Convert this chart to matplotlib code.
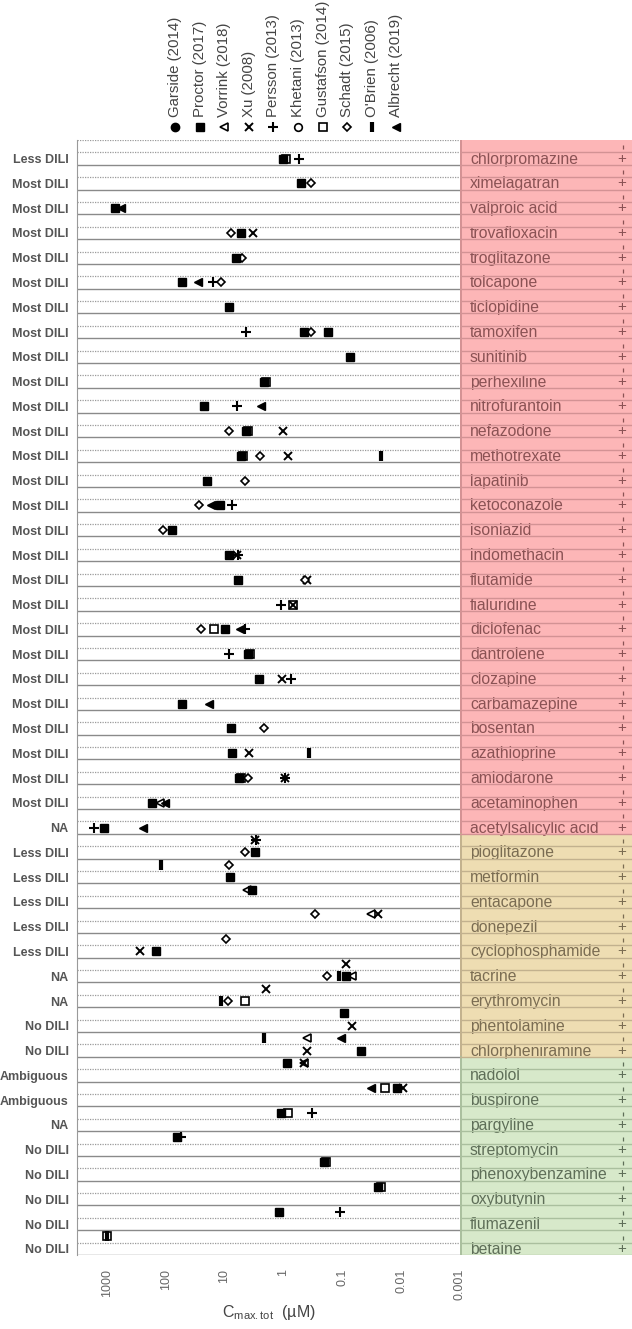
import matplotlib
matplotlib.use("Agg")
import matplotlib.pyplot as plt

plt.rcParams['font.family'] = ['Liberation Sans', 'DejaVu Sans']
plt.rcParams['mathtext.fontset'] = 'custom'
plt.rcParams['mathtext.rm'] = 'Liberation Sans'
plt.rcParams['mathtext.it'] = 'Liberation Sans'

# ---- data -------------------------------------------------------------
drugs = ['chlorpromazine', 'ximelagatran', 'valproic acid', 'trovafloxacin',
         'troglitazone', 'tolcapone', 'ticlopidine', 'tamoxifen', 'sunitinib',
         'perhexiline', 'nitrofurantoin', 'nefazodone', 'methotrexate',
         'lapatinib', 'ketoconazole', 'isoniazid', 'indomethacin', 'flutamide',
         'fialuridine', 'diclofenac', 'dantrolene', 'clozapine',
         'carbamazepine', 'bosentan', 'azathioprine', 'amiodarone',
         'acetaminophen', 'acetylsalicylic acid', 'pioglitazone', 'metformin',
         'entacapone', 'donepezil', 'cyclophosphamide', 'tacrine',
         'erythromycin', 'phentolamine', 'chlorpheniramine', 'nadolol',
         'buspirone', 'pargyline', 'streptomycin', 'phenoxybenzamine',
         'oxybutynin', 'flumazenil', 'betaine']

dili = ['Less DILI'] + ['Most DILI'] * 26 + ['NA'] + ['Less DILI'] * 5 + \
       ['NA', 'NA', 'No DILI', 'No DILI', 'Ambiguous', 'Ambiguous', 'NA'] + \
       ['No DILI'] * 5

strip_group = ['high'] * 28 + ['mid'] * 9 + ['low'] * 8

studies = ['Garside (2014)', 'Proctor (2017)', 'Vorrink (2018)', 'Xu (2008)',
           'Persson (2013)', 'Khetani (2013)', 'Gustafson (2014)',
           'Schadt (2015)', "O'Brien (2006)", 'Albrecht (2019)']

# (drug, Cmax uM, lane) ; lane 1 = upper half of the row
garside = []
proctor = [('chlorpromazine', 1.0, 0), ('ximelagatran', 0.5, 0),
           ('valproic acid', 720, 0), ('trovafloxacin', 5.3, 0),
           ('troglitazone', 6.4, 0), ('tolcapone', 52, 0),
           ('ticlopidine', 8.4, 0), ('tamoxifen', 0.44, 0),
           ('tamoxifen', 0.175, 0), ('sunitinib', 0.075, 0),
           ('perhexiline', 2.17, 0), ('nitrofurantoin', 22, 0),
           ('nefazodone', 4.35, 0), ('methotrexate', 5.2, 0),
           ('lapatinib', 19.5, 0), ('ketoconazole', 11.9, 0),
           ('isoniazid', 77, 0), ('indomethacin', 8.4, 0),
           ('flutamide', 5.9, 0), ('diclofenac', 9.8, 0),
           ('dantrolene', 4.0, 0), ('clozapine', 2.56, 0),
           ('carbamazepine', 52.5, 0), ('bosentan', 7.7, 0),
           ('azathioprine', 7.6, 0), ('amiodarone', 5.7, 0),
           ('acetaminophen', 172, 0), ('acetylsalicylic acid', 1130, 0),
           ('pioglitazone', 3.07, 0), ('metformin', 8.1, 0),
           ('entacapone', 3.45, 1), ('cyclophosphamide', 147, 0),
           ('tacrine', 0.087, 0), ('phentolamine', 0.094, 1),
           ('chlorpheniramine', 0.048, 0), ('nadolol', 0.87, 1),
           ('buspirone', 0.0117, 1), ('pargyline', 1.09, 1),
           ('streptomycin', 65, 1), ('phenoxybenzamine', 0.207, 1),
           ('oxybutynin', 0.0247, 1), ('flumazenil', 1.2, 1)]
vorrink = [('acetaminophen', 125, 0), ('entacapone', 4.2, 1),
           ('donepezil', 0.033, 1), ('tacrine', 0.067, 0),
           ('chlorpheniramine', 0.39, 1), ('nadolol', 0.455, 1)]
xu = [('trovafloxacin', 3.3, 0), ('nefazodone', 1.0, 0),
      ('methotrexate', 0.82, 0), ('indomethacin', 6.2, 0),
      ('flutamide', 0.39, 0), ('fialuridine', 0.68, 0),
      ('clozapine', 1.04, 0), ('azathioprine', 3.77, 0),
      ('amiodarone', 0.94, 0), ('pioglitazone', 3.0, 1),
      ('donepezil', 0.025, 1), ('cyclophosphamide', 273, 0),
      ('tacrine', 0.088, 1), ('erythromycin', 1.95, 1),
      ('phentolamine', 0.069, 0), ('chlorpheniramine', 0.39, 0),
      ('nadolol', 0.455, 1), ('buspirone', 0.0093, 1)]
persson = [('chlorpromazine', 0.54, 0), ('tolcapone', 15.6, 0),
           ('tamoxifen', 4.35, 0), ('nitrofurantoin', 6.2, 0),
           ('ketoconazole', 7.5, 0), ('indomethacin', 6.0, 0),
           ('fialuridine', 1.08, 0), ('diclofenac', 4.5, 0),
           ('dantrolene', 8.4, 0), ('clozapine', 0.74, 0),
           ('amiodarone', 0.94, 0), ('acetylsalicylic acid', 1660, 0),
           ('pioglitazone', 2.9, 1), ('pargyline', 0.33, 1),
           ('streptomycin', 54, 1), ('flumazenil', 0.11, 1)]
khetani = []
gustafson = [('chlorpromazine', 0.9, 0), ('perhexiline', 2.0, 0),
             ('nefazodone', 4.0, 0), ('methotrexate', 4.8, 0),
             ('fialuridine', 0.68, 0), ('diclofenac', 15, 0),
             ('dantrolene', 3.7, 0), ('amiodarone', 5.2, 0),
             ('erythromycin', 4.5, 0), ('buspirone', 0.0185, 1),
             ('pargyline', 0.85, 1), ('phenoxybenzamine', 0.19, 1),
             ('oxybutynin', 0.022, 1), ('betaine', 985, 1)]
schadt = [('ximelagatran', 0.34, 0), ('trovafloxacin', 7.8, 0),
          ('troglitazone', 5.1, 0), ('tolcapone', 11.4, 0),
          ('tamoxifen', 0.34, 0), ('nefazodone', 8.4, 0),
          ('methotrexate', 2.46, 0), ('lapatinib', 4.4, 0),
          ('ketoconazole', 26.8, 0), ('isoniazid', 111, 0),
          ('flutamide', 0.43, 0), ('diclofenac', 25, 0),
          ('bosentan', 2.1, 0), ('amiodarone', 4.0, 0),
          ('pioglitazone', 4.5, 0), ('metformin', 8.4, 1),
          ('donepezil', 0.29, 1), ('cyclophosphamide', 9.3, 1),
          ('tacrine', 0.18, 0), ('erythromycin', 8.6, 0)]
obrien = [('methotrexate', 0.0216, 0), ('azathioprine', 0.366, 0),
          ('metformin', 121, 1), ('tacrine', 0.115, 0),
          ('erythromycin', 11.6, 0), ('chlorpheniramine', 2.11, 1),
          ('betaine', 985, 1)]
albrecht = [('valproic acid', 570, 0), ('tolcapone', 28, 0),
            ('nitrofurantoin', 2.4, 0), ('ketoconazole', 17, 0),
            ('diclofenac', 5.5, 0), ('carbamazepine', 18.2, 0),
            ('acetaminophen', 104, 0), ('acetylsalicylic acid', 246, 0),
            ('chlorpheniramine', 0.107, 1), ('buspirone', 0.033, 1)]

study_data = [garside, proctor, vorrink, xu, persson, khetani, gustafson,
              schadt, obrien, albrecht]

x_ticks = [1000, 100, 10, 1, 0.1, 0.01, 0.001]
x_ticklabels = ['1000', '100', '10', '1', '0.1', '0.01', '0.001']

# ---- styles -----------------------------------------------------------
styles = [dict(marker='o', ms=6, mfc='black', mec='black'),
          dict(marker='s', ms=6, mfc='black', mec='black'),
          dict(marker='<', ms=6, mfc='white', mec='black', mew=1.2),
          dict(marker='x', ms=6, mec='black', mew=1.4),
          dict(marker='+', ms=7, mec='black', mew=1.5),
          dict(marker='o', ms=5.5, mfc='white', mec='black', mew=1.2),
          dict(marker='s', ms=6, mfc='white', mec='black', mew=1.2),
          dict(marker='D', ms=4.5, mfc='white', mec='black', mew=1.2),
          dict(marker='|', ms=7, mec='black', mew=3),
          dict(marker='<', ms=6, mfc='black', mec='black')]
# open squares sit underneath the filled ones
zorders = [3, 4, 3, 3, 3, 3, 2, 3, 3, 3]

strip_fill = {'high': '#FDB6B7', 'mid': '#EEDDB2', 'low': '#D7E9CA'}
strip_text = {'high': '#8A5254', 'mid': '#7A6C52', 'low': '#5E6E58'}
strip_line = {'high': '#D39294', 'mid': '#C2B18E', 'low': '#AABF9E'}

W, H = 632, 1329
fig = plt.figure(figsize=(W / 100, H / 100), dpi=100)
top, bottom, left, right = 140, 1255, 77, 460
ax = fig.add_axes([left / W, 1 - bottom / H, (right - left) / W,
                   (bottom - top) / H])
n = len(drugs)
row = {d: i for i, d in enumerate(drugs)}

for i in range(n):
    ax.axhline(i - 0.25, color='#9a9a9a', lw=0.9, ls=(0, (1, 1)), zorder=1)
    ax.axhline(i + 0.25, color='#8a8a8a', lw=1.0, zorder=1)
ax.axhline(-0.75, color='#9a9a9a', lw=0.9, ls=(0, (1, 1)), zorder=1)

for data, st, z in zip(study_data, styles, zorders):
    if not data:
        continue
    xs = [v for d, v, l in data]
    ys = [row[d] - 0.5 * l for d, v, l in data]
    ax.plot(xs, ys, ls='none', zorder=z, **st)

ax.set_xscale('log')
ax.set_xlim(3200, 0.001)
ax.set_ylim(n - 0.75, -0.75)
ax.set_xticks(x_ticks)
ax.set_xticklabels(x_ticklabels, rotation=90, va='top', fontsize=9,
                   color='#666666')
ax.minorticks_off()
ax.tick_params(axis='x', length=0, pad=10)
ax.set_yticks(range(n))
ax.set_yticklabels(dili, fontsize=9, fontweight='bold', color='#555555')
ax.tick_params(axis='y', length=0, pad=6)
for s in ['top', 'right', 'bottom']:
    ax.spines[s].set_visible(False)
ax.spines['left'].set_color('#9a9a9a')

fig.text((left + right) / 2 / W, 1 - 1312 / H,
         r'C$_{\mathrm{max.tot}}$  (µM)', ha='center', va='center',
         fontsize=11.5, color='#444444')

# ---- strip on the right ----------------------------------------------
sx = fig.add_axes([right / W, 1 - bottom / H, (W - right) / W,
                   (bottom - top) / H])
sx.set_xlim(0, 1)
sx.set_ylim(n - 0.75, -0.75)
sx.axis('off')
for g in ['high', 'mid', 'low']:
    idx = [i for i, gg in enumerate(strip_group) if gg == g]
    lo = -0.75 if idx[0] == 0 else idx[0] - 0.75
    sx.axhspan(lo, idx[-1] + 0.25, color=strip_fill[g], lw=0, zorder=0)
    sx.plot([0.004, 0.004], [lo, idx[-1] + 0.25], color=strip_line[g],
            lw=1.4, zorder=3)
for i, d in enumerate(drugs):
    g = strip_group[i]
    sx.text(0.058, i + 0.02, d, va='center', ha='left', fontsize=11.3,
            color=strip_text[g], zorder=2)
    sx.text(0.942, i, '+', va='center', ha='center', fontsize=11,
            color=strip_text[g], zorder=2)
    sx.plot([0.948], [i - 0.45], marker='|', ms=3, mew=0.9,
            color=strip_text[g], zorder=2)
    sx.axhline(i - 0.25, color=strip_line[g], lw=1.0, zorder=3)
    sx.axhline(i + 0.25, color=strip_line[g], lw=1.0, zorder=3)

# ---- legend along the top ---------------------------------------------
lg = fig.add_axes([0, 0, 1, 1])
lg.set_xlim(0, W)
lg.set_ylim(H, 0)
lg.axis('off')
for k, (name, st) in enumerate(zip(studies, styles)):
    x = 175 + 24.6 * k
    lg.plot([x], [127], ls='none', **st)
    lg.text(x, 117, name, rotation=90, ha='center', va='bottom',
            fontsize=10.8, color='#444444')

fig.savefig('out.png', dpi=100)
